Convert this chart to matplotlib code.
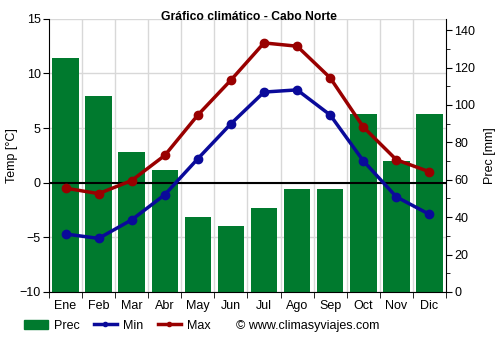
import matplotlib.pyplot as plt
import numpy as np
from matplotlib.patches import Patch
from matplotlib.lines import Line2D

plt.rcParams["font.family"] = ["Liberation Sans", "DejaVu Sans"]

months = ["Ene", "Feb", "Mar", "Abr", "May", "Jun", "Jul", "Ago", "Sep", "Oct", "Nov", "Dic"]
prec = [125, 105, 75, 65, 40, 35, 45, 55, 55, 95, 70, 95]
tmin = [-4.7, -5.1, -3.4, -1.1, 2.2, 5.4, 8.3, 8.5, 6.2, 2.0, -1.3, -2.9]
tmax = [-0.5, -1.0, 0.2, 2.5, 6.2, 9.4, 12.8, 12.5, 9.6, 5.1, 2.1, 1.0]

green = "#007a2e"
blue = "#0a0a9a"
red = "#990000"
fs = 9

fig = plt.figure(figsize=(5, 3.5), dpi=100)
ax = fig.add_axes([0.098, 0.166, 0.794, 0.78])
ax2 = ax.twinx()

x = np.arange(len(months))

# precipitation bars on the right axis, drawn behind temperatures
ax2.bar(x, prec, width=0.8, color=green, zorder=1)
ax2.set_ylim(0, 146)
ax2.set_yticks(range(0, 141, 20))
ax2.set_yticks(range(10, 141, 20), minor=True)
ax2.set_ylabel("Prec [mm]", fontsize=fs)
ax2.yaxis.set_label_coords(1.095, 0.5)
ax2.tick_params(labelsize=fs, direction="out", length=4, pad=2)
ax2.tick_params(which="minor", length=3)

ax.set_zorder(ax2.get_zorder() + 1)
ax.patch.set_visible(False)
ax2.patch.set_visible(True)
ax2.patch.set_facecolor("white")
ax2.set_zorder(0)

ax.axhline(0, color="black", lw=1.5, zorder=2)
ax.plot(x, tmin, color=blue, lw=2.5, marker="o", ms=6, zorder=3)
ax.plot(x, tmax, color=red, lw=2.5, marker="o", ms=6, zorder=3)
ax.set_ylim(-10, 15)
ax.set_yticks(range(-10, 16, 5))
ax.set_xlim(-0.5, 11.5)
ax.set_xticks(x)
ax.set_xticklabels(months)
ax.set_xticks(np.arange(-0.5, 12, 1), minor=True)
ax.tick_params(axis="x", which="major", length=0, labelsize=fs, pad=6)
ax.tick_params(axis="x", which="minor", length=4)
ax.tick_params(axis="y", labelsize=fs, length=4, pad=2)
ax.set_ylabel("Temp [°C]", fontsize=fs)
ax.yaxis.set_label_coords(-0.078, 0.5)
fig.text(0.497, 0.951, "Gráfico climático - Cabo Norte", fontsize=8.7,
         fontweight="bold", ha="center", va="center")

# grid drawn on the back axis so it sits behind the bars
for v in range(-10, 16, 5):
    ax2.axhline((v + 10) / 25 * 146, color="#d8d8d8", lw=1, zorder=0)
for v in np.arange(0.5, 11, 1):
    ax2.axvline(v, color="#d8d8d8", lw=1, zorder=0)

for a in (ax, ax2):
    a.spines["top"].set_visible(False)
ax2.spines["left"].set_visible(False)
ax2.spines["bottom"].set_visible(False)
ax.spines["right"].set_visible(False)

handles = [Patch(color=green, label="Prec"),
           Line2D([0], [0], color=blue, lw=2.5, marker="o", ms=3, label="Min"),
           Line2D([0], [0], color=red, lw=2.5, marker="o", ms=3, label="Max")]
fig.legend(handles=handles, loc="center left", bbox_to_anchor=(0.048, 0.069), ncol=3,
           frameon=False, fontsize=fs, handlelength=1.9, handletextpad=0.5,
           columnspacing=1.1, borderaxespad=0, borderpad=0)
fig.text(0.472, 0.069, "© www.climasyviajes.com", fontsize=fs, va="center")

fig.savefig("out.png", dpi=100)
